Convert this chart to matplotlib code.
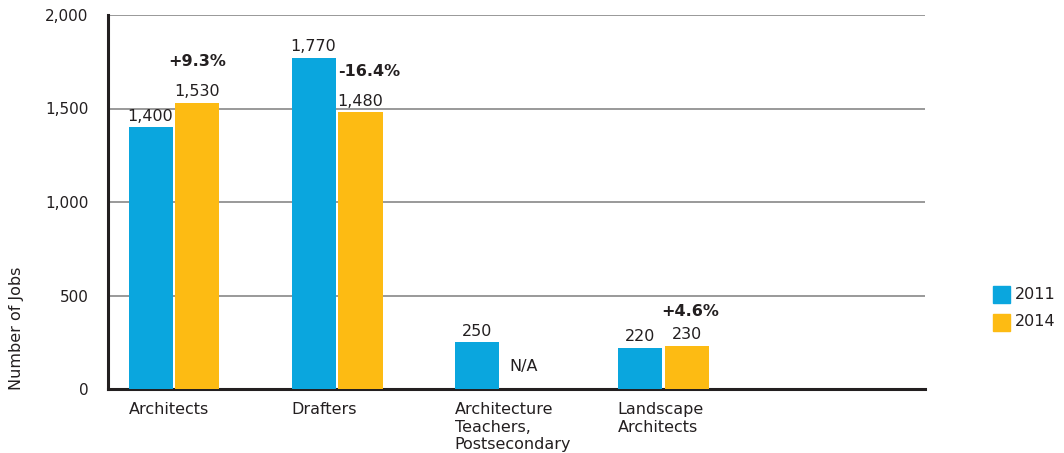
import matplotlib
matplotlib.use("Agg")
import matplotlib.pyplot as plt
import numpy as np

categories = ["Architects", "Drafters", "Architecture\nTeachers,\nPostsecondary", "Landscape\nArchitects"]
jobs_2011 = [1400, 1770, 250, 220]
jobs_2014 = [1530, 1480, None, 230]
pct_change = ["+9.3%", "-16.4%", None, "+4.6%"]
yticks = [0, 500, 1000, 1500, 2000]

BLUE = "#0aa6de"
GOLD = "#fdbb13"
INK = "#231f20"
FS = 11.5

plt.rcParams["font.family"] = ["DejaVu Sans"]

fig = plt.figure(figsize=(10.64, 4.53), dpi=100)
ax = fig.add_axes([108 / 1064, 1 - 389 / 453, (925 - 108) / 1064, (389 - 15) / 453])

x = np.arange(len(categories))
w = 0.27
off = 0.144

# lift of the % change label above the gold bar (points), and sideways nudge
pct_lift = {0: 30, 1: 29, 3: 24.5}
pct_nudge = {0: 0, 1: 6, 3: 3}

for i in x:
    v1 = jobs_2011[i]
    ax.bar(i - off, v1, w, color=BLUE, zorder=3)
    ax.annotate(f"{v1:,}", (i - off, v1), xytext=(0, 8), textcoords="offset points",
                ha="center", va="center", fontsize=FS, color=INK)
    v2 = jobs_2014[i]
    if v2 is None:
        ax.text(i + off, 118, "N/A", ha="center", va="center", fontsize=FS, color=INK)
        continue
    ax.bar(i + off, v2, w, color=GOLD, zorder=3)
    ax.annotate(f"{v2:,}", (i + off, v2), xytext=(0, 8), textcoords="offset points",
                ha="center", va="center", fontsize=FS, color=INK)
    if pct_change[i]:
        ax.annotate(pct_change[i], (i + off, v2), xytext=(pct_nudge[i], pct_lift[i]),
                    textcoords="offset points", ha="center", va="center",
                    fontsize=FS, fontweight="bold", color=INK)

ax.set_xlim(-0.405, 4.607)
ax.set_ylim(0, 2000)
ax.set_yticks(yticks)
ax.set_yticklabels([f"{t:,}" for t in yticks], fontsize=11, color=INK)
ax.yaxis.grid(True, color="#888888", lw=1.2, zorder=0)
ax.set_axisbelow(True)
ax.tick_params(axis="y", length=0, pad=14)
ax.set_xticks([])

for s in ["top", "right"]:
    ax.spines[s].set_visible(False)
ax.spines["left"].set_color(INK)
ax.spines["left"].set_linewidth(2.2)
ax.spines["bottom"].set_color(INK)
ax.spines["bottom"].set_linewidth(2.2)

# category names sit left-aligned under the blue bars
for i, name in enumerate(categories):
    ax.annotate(name, (i - off - w / 2, 0), xytext=(0, -9.5), textcoords="offset points",
                ha="left", va="top", fontsize=FS, color=INK, linespacing=1.2,
                annotation_clip=False)

fig.text(17 / 1064, 1 - 328 / 453, "Number of Jobs", rotation=90, ha="center", va="center",
         fontsize=FS, color=INK)

# legend swatches
for j, (lab, col) in enumerate([("2011", BLUE), ("2014", GOLD)]):
    y0 = 1 - (303 + j * 27.5) / 453
    fig.patches.append(plt.Rectangle((993 / 1064, y0), 17 / 1064, 17 / 453,
                                     transform=fig.transFigure, color=col, figure=fig))
    fig.text(1015 / 1064, y0 + 8.5 / 453, lab, ha="left", va="center", fontsize=FS, color=INK)

fig.savefig("out.png", dpi=100)
